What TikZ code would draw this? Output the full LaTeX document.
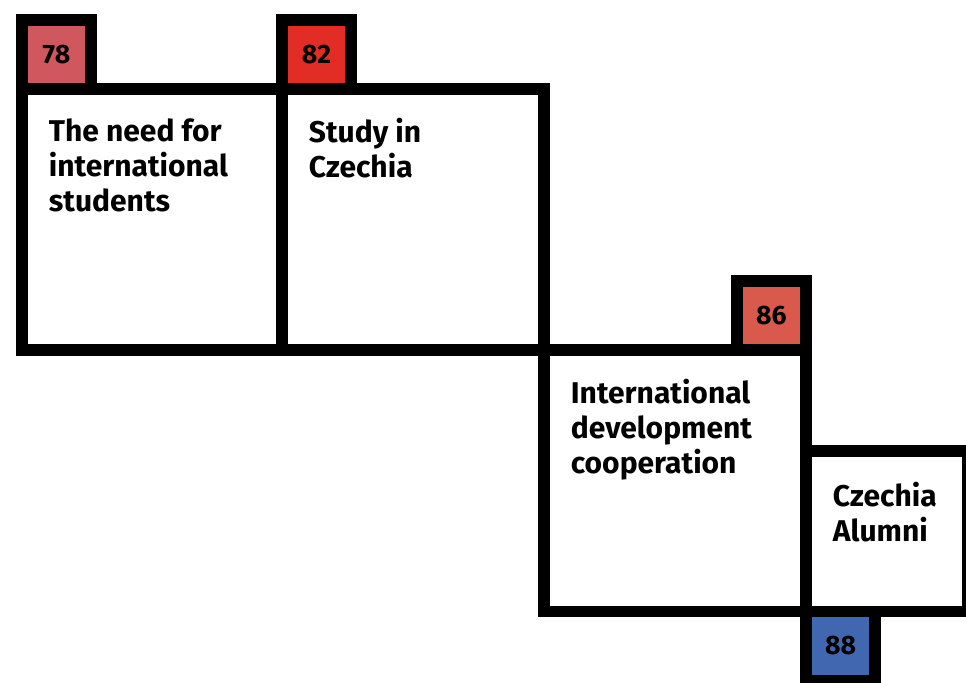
\documentclass[tikz,border=0pt]{standalone}
\usepackage{fontspec}
\setmainfont{Fira Sans}
\usetikzlibrary{positioning}

\definecolor{tagpink}{RGB}{209,87,95}
\definecolor{tagred}{RGB}{225,45,38}
\definecolor{tagcoral}{RGB}{217,90,76}
\definecolor{tagblue}{RGB}{64,103,176}

\begin{document}
\begin{tikzpicture}[
  x=0.75pt, y=-0.75pt,
  box/.style={draw=black, fill=white, rectangle, line width=8.7pt,
              anchor=north west, inner sep=0pt, outer sep=0pt},
  tag/.style={draw=black, rectangle, line width=8.7pt, anchor=north west,
              minimum width=51.75pt, minimum height=51.75pt, inner sep=0pt,
              outer sep=0pt, font=\bfseries\fontsize{20}{22}\selectfont},
  lbl/.style={anchor=north west, align=left, inner sep=0pt,
              font=\bfseries\fontsize{22.5}{26.25}\selectfont},
]
  \useasboundingbox (0,0) rectangle (966,682);

  % --- Boxes ---
  \node[box, minimum width=195pt, minimum height=195.75pt] (need) at (22,89) {};
  \node[box, minimum width=196.5pt, minimum height=195.75pt] (study) at (282,89) {};
  \node[box, minimum width=196.5pt, minimum height=196.1pt] (idc) at (544,350) {};
  \node[box, minimum width=121.5pt, minimum height=120.4pt] (alumni) at (806,451) {};

  % --- Page tags ---
  \node[tag, fill=tagpink] (p78) at (22,20) {78};
  \node[tag, fill=tagred] (p82) at (282,20) {82};
  \node[tag, fill=tagcoral] (p86) at (737,281) {86};
  \node[tag, fill=tagblue] (p88) at (806,611.5) {88};

  % --- Titles ---
  \node[lbl, below right=22pt and 20pt of need.north west]
    (needtxt) {The need for\\international\\students};
  \node[lbl, below right=22pt and 20pt of study.north west]
    (studytxt) {Study in\\Czechia};
  \node[lbl, below right=22pt and 20pt of idc.north west]
    (idctxt) {International\\development\\cooperation};
  \node[lbl, below right=23pt and 20pt of alumni.north west]
    (alumnitxt) {Czechia\\Alumni};
\end{tikzpicture}
\end{document}
